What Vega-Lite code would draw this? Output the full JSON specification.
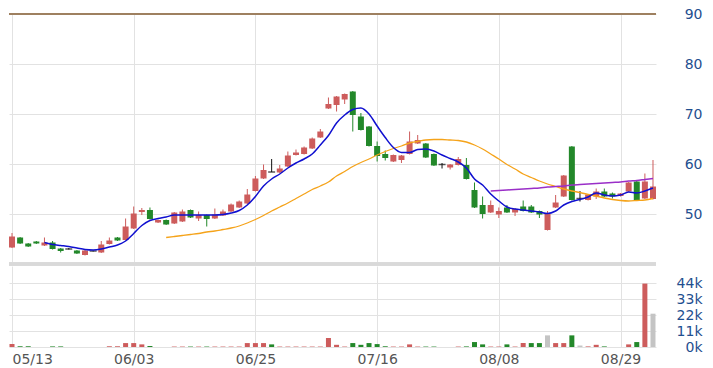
{
  "$schema": "https://vega.github.io/schema/vega-lite/v6.json",
  "padding": {"left": 7, "top": 7, "right": 5, "bottom": 2},
  "spacing": 0,
  "config": {"view": {"stroke": null}, "font": "DejaVu Sans"},
  "data": {"values": [
    {"d":"05/13","o":43.3,"h":46.2,"l":43.2,"c":45.5,"v":2000,"vd":"up","m5":null,"m20":null,"m60":null},
    {"d":"05/14","o":45.3,"h":45.4,"l":44.0,"c":44.1,"v":500,"vd":"down","m5":null,"m20":null,"m60":null},
    {"d":"05/15","o":44.1,"h":44.2,"l":43.4,"c":43.5,"v":500,"vd":"down","m5":null,"m20":null,"m60":null},
    {"d":"05/16","o":44.5,"h":44.6,"l":44.0,"c":44.1,"v":0,"vd":"down","m5":null,"m20":null,"m60":null},
    {"d":"05/17","o":43.7,"h":45.3,"l":43.6,"c":44.3,"v":0,"vd":"up","m5":44.3,"m20":null,"m60":null},
    {"d":"05/20","o":44.3,"h":44.6,"l":42.9,"c":43.0,"v":400,"vd":"down","m5":43.9,"m20":null,"m60":null},
    {"d":"05/21","o":43.1,"h":43.2,"l":42.3,"c":42.6,"v":400,"vd":"down","m5":43.7,"m20":null,"m60":null},
    {"d":"05/22","o":43.0,"h":43.2,"l":42.9,"c":43.0,"v":0,"vd":"flat","m5":43.5,"m20":null,"m60":null},
    {"d":"05/23","o":42.7,"h":42.8,"l":42.0,"c":42.1,"v":0,"vd":"down","m5":43.2,"m20":null,"m60":null},
    {"d":"05/24","o":41.8,"h":42.8,"l":41.7,"c":42.7,"v":0,"vd":"up","m5":42.9,"m20":null,"m60":null},
    {"d":"05/27","o":42.6,"h":42.7,"l":42.5,"c":42.6,"v":0,"vd":"flat","m5":42.8,"m20":null,"m60":null},
    {"d":"05/28","o":42.3,"h":44.6,"l":42.2,"c":43.9,"v":0,"vd":"up","m5":43.0,"m20":null,"m60":null},
    {"d":"05/29","o":44.0,"h":45.3,"l":43.9,"c":44.7,"v":500,"vd":"up","m5":43.4,"m20":null,"m60":null},
    {"d":"05/30","o":45.3,"h":45.4,"l":44.6,"c":44.7,"v":500,"vd":"up","m5":43.8,"m20":null,"m60":null},
    {"d":"05/31","o":44.8,"h":49.1,"l":44.7,"c":47.5,"v":2700,"vd":"up","m5":44.6,"m20":null,"m60":null},
    {"d":"06/03","o":47.1,"h":51.5,"l":47.0,"c":50.1,"v":2700,"vd":"up","m5":46.1,"m20":null,"m60":null},
    {"d":"06/04","o":50.4,"h":51.2,"l":49.8,"c":50.8,"v":1800,"vd":"up","m5":47.7,"m20":null,"m60":null},
    {"d":"06/05","o":50.8,"h":51.3,"l":48.9,"c":49.0,"v":700,"vd":"down","m5":48.7,"m20":null,"m60":null},
    {"d":"06/06","o":48.3,"h":48.9,"l":48.2,"c":48.8,"v":0,"vd":"up","m5":49.1,"m20":null,"m60":null},
    {"d":"06/10","o":48.8,"h":48.9,"l":47.8,"c":47.9,"v":0,"vd":"down","m5":49.4,"m20":45.3,"m60":null},
    {"d":"06/11","o":48.1,"h":50.4,"l":48.0,"c":50.3,"v":300,"vd":"up","m5":49.8,"m20":45.5,"m60":null},
    {"d":"06/12","o":48.5,"h":50.9,"l":48.4,"c":50.5,"v":300,"vd":"up","m5":49.8,"m20":45.7,"m60":null},
    {"d":"06/13","o":50.8,"h":50.9,"l":49.2,"c":49.3,"v":300,"vd":"down","m5":49.8,"m20":45.9,"m60":null},
    {"d":"06/14","o":49.1,"h":50.5,"l":48.6,"c":49.8,"v":300,"vd":"up","m5":49.8,"m20":46.1,"m60":null},
    {"d":"06/17","o":49.8,"h":49.9,"l":47.5,"c":49.0,"v":300,"vd":"down","m5":49.8,"m20":46.4,"m60":null},
    {"d":"06/18","o":49.1,"h":51.1,"l":49.0,"c":49.9,"v":300,"vd":"up","m5":49.8,"m20":46.6,"m60":null},
    {"d":"06/19","o":49.7,"h":50.9,"l":49.6,"c":50.5,"v":300,"vd":"up","m5":49.9,"m20":46.9,"m60":null},
    {"d":"06/20","o":50.5,"h":52.1,"l":50.4,"c":51.9,"v":300,"vd":"up","m5":50.2,"m20":47.2,"m60":null},
    {"d":"06/21","o":51.3,"h":52.7,"l":51.2,"c":52.5,"v":300,"vd":"up","m5":50.7,"m20":47.6,"m60":null},
    {"d":"06/24","o":52.1,"h":55.0,"l":52.0,"c":53.9,"v":2700,"vd":"up","m5":51.8,"m20":48.2,"m60":null},
    {"d":"06/25","o":54.6,"h":57.6,"l":54.5,"c":57.1,"v":2700,"vd":"up","m5":53.5,"m20":48.9,"m60":null},
    {"d":"06/26","o":57.1,"h":59.9,"l":57.0,"c":58.8,"v":2700,"vd":"up","m5":55.6,"m20":49.7,"m60":null},
    {"d":"06/27","o":58.4,"h":61.0,"l":58.4,"c":58.4,"v":1800,"vd":"down","m5":57.0,"m20":50.6,"m60":null},
    {"d":"06/28","o":58.3,"h":59.8,"l":58.2,"c":59.1,"v":300,"vd":"up","m5":58.0,"m20":51.4,"m60":null},
    {"d":"07/01","o":59.5,"h":62.5,"l":59.4,"c":61.7,"v":300,"vd":"up","m5":59.2,"m20":52.2,"m60":null},
    {"d":"07/02","o":61.8,"h":62.9,"l":61.7,"c":62.3,"v":300,"vd":"up","m5":60.2,"m20":53.1,"m60":null},
    {"d":"07/03","o":62.0,"h":63.5,"l":61.9,"c":63.3,"v":300,"vd":"up","m5":61.0,"m20":54.0,"m60":null},
    {"d":"07/04","o":63.1,"h":65.3,"l":63.0,"c":65.1,"v":300,"vd":"up","m5":62.0,"m20":54.9,"m60":null},
    {"d":"07/05","o":65.3,"h":67.0,"l":65.2,"c":66.5,"v":300,"vd":"up","m5":63.8,"m20":55.6,"m60":null},
    {"d":"07/08","o":71.1,"h":73.3,"l":71.0,"c":72.0,"v":6200,"vd":"up","m5":65.7,"m20":56.4,"m60":null},
    {"d":"07/09","o":71.8,"h":73.6,"l":70.5,"c":73.5,"v":1500,"vd":"up","m5":68.2,"m20":57.6,"m60":null},
    {"d":"07/10","o":72.9,"h":74.1,"l":72.0,"c":74.0,"v":300,"vd":"up","m5":69.8,"m20":58.5,"m60":null},
    {"d":"07/11","o":74.5,"h":74.6,"l":66.5,"c":69.8,"v":2700,"vd":"down","m5":70.9,"m20":59.5,"m60":null},
    {"d":"07/12","o":69.5,"h":70.2,"l":66.7,"c":66.8,"v":1500,"vd":"down","m5":71.2,"m20":60.3,"m60":null},
    {"d":"07/15","o":67.5,"h":67.6,"l":63.5,"c":63.6,"v":2700,"vd":"down","m5":70.0,"m20":61.0,"m60":null},
    {"d":"07/16","o":63.6,"h":64.5,"l":60.5,"c":61.6,"v":2000,"vd":"down","m5":67.6,"m20":61.8,"m60":null},
    {"d":"07/17","o":62.0,"h":62.7,"l":60.7,"c":61.2,"v":500,"vd":"down","m5":65.3,"m20":62.5,"m60":null},
    {"d":"07/18","o":60.5,"h":61.9,"l":60.4,"c":61.8,"v":300,"vd":"up","m5":63.3,"m20":63.1,"m60":null},
    {"d":"07/19","o":60.8,"h":61.8,"l":60.2,"c":61.7,"v":300,"vd":"up","m5":62.3,"m20":63.6,"m60":null},
    {"d":"07/22","o":62.0,"h":66.5,"l":61.9,"c":64.5,"v":1800,"vd":"up","m5":62.3,"m20":64.2,"m60":null},
    {"d":"07/23","o":64.1,"h":65.8,"l":64.0,"c":64.8,"v":300,"vd":"up","m5":62.9,"m20":64.5,"m60":null},
    {"d":"07/24","o":64.1,"h":64.2,"l":61.2,"c":61.3,"v":300,"vd":"down","m5":63.0,"m20":64.8,"m60":null},
    {"d":"07/25","o":62.0,"h":62.1,"l":59.6,"c":59.7,"v":300,"vd":"down","m5":62.6,"m20":64.9,"m60":null},
    {"d":"07/26","o":59.9,"h":60.2,"l":59.1,"c":59.9,"v":0,"vd":"flat","m5":61.8,"m20":64.9,"m60":null},
    {"d":"07/29","o":59.3,"h":60.0,"l":58.9,"c":59.9,"v":0,"vd":"up","m5":61.1,"m20":64.8,"m60":null},
    {"d":"07/30","o":59.8,"h":61.4,"l":59.7,"c":61.0,"v":300,"vd":"up","m5":60.4,"m20":64.7,"m60":null},
    {"d":"07/31","o":59.8,"h":61.2,"l":56.9,"c":57.0,"v":400,"vd":"down","m5":59.2,"m20":64.4,"m60":null},
    {"d":"08/01","o":54.8,"h":56.3,"l":51.2,"c":51.3,"v":3400,"vd":"down","m5":57.0,"m20":63.8,"m60":null},
    {"d":"08/02","o":51.8,"h":53.5,"l":49.1,"c":50.0,"v":1800,"vd":"down","m5":55.8,"m20":63.0,"m60":null},
    {"d":"08/05","o":50.3,"h":52.7,"l":50.2,"c":51.8,"v":300,"vd":"up","m5":54.0,"m20":62.0,"m60":54.6},
    {"d":"08/08","o":49.9,"h":51.3,"l":49.2,"c":50.6,"v":300,"vd":"up","m5":52.6,"m20":61.0,"m60":54.7},
    {"d":"08/09","o":51.3,"h":51.8,"l":50.2,"c":50.3,"v":1800,"vd":"down","m5":51.4,"m20":59.9,"m60":54.8},
    {"d":"08/12","o":50.3,"h":51.2,"l":49.6,"c":51.0,"v":300,"vd":"up","m5":51.0,"m20":59.0,"m60":54.9},
    {"d":"08/13","o":51.5,"h":52.7,"l":50.5,"c":50.6,"v":2700,"vd":"up","m5":50.8,"m20":58.0,"m60":55.0},
    {"d":"08/14","o":51.5,"h":51.8,"l":50.2,"c":50.3,"v":2700,"vd":"down","m5":50.6,"m20":57.3,"m60":55.1},
    {"d":"08/15","o":50.6,"h":50.7,"l":49.2,"c":49.9,"v":2700,"vd":"down","m5":50.4,"m20":56.6,"m60":55.2},
    {"d":"08/16","o":46.8,"h":50.6,"l":46.7,"c":50.1,"v":8000,"vd":"flat","m5":50.1,"m20":56.0,"m60":55.4},
    {"d":"08/19","o":51.3,"h":53.8,"l":51.2,"c":52.3,"v":2700,"vd":"up","m5":50.6,"m20":55.5,"m60":55.5},
    {"d":"08/20","o":53.5,"h":57.8,"l":53.4,"c":57.7,"v":2700,"vd":"up","m5":51.8,"m20":55.0,"m60":55.6},
    {"d":"08/21","o":63.5,"h":63.6,"l":52.7,"c":52.8,"v":8000,"vd":"down","m5":52.5,"m20":54.6,"m60":55.8},
    {"d":"08/22","o":53.1,"h":54.6,"l":52.5,"c":53.1,"v":1000,"vd":"flat","m5":52.9,"m20":54.3,"m60":55.9},
    {"d":"08/23","o":52.8,"h":54.0,"l":52.7,"c":53.9,"v":400,"vd":"up","m5":53.4,"m20":53.9,"m60":56.0},
    {"d":"08/26","o":53.5,"h":55.1,"l":53.0,"c":54.5,"v":1500,"vd":"up","m5":54.2,"m20":53.6,"m60":56.1},
    {"d":"08/27","o":54.5,"h":55.1,"l":53.4,"c":53.5,"v":400,"vd":"down","m5":53.8,"m20":53.2,"m60":56.2},
    {"d":"08/28","o":54.1,"h":54.3,"l":53.1,"c":53.5,"v":0,"vd":"down","m5":53.6,"m20":52.9,"m60":56.3},
    {"d":"08/29","o":53.6,"h":54.2,"l":53.5,"c":54.1,"v":0,"vd":"up","m5":53.8,"m20":52.7,"m60":56.4},
    {"d":"08/30","o":54.5,"h":56.4,"l":54.4,"c":56.3,"v":1800,"vd":"up","m5":54.4,"m20":52.6,"m60":56.6},
    {"d":"09/02","o":56.5,"h":56.6,"l":52.7,"c":52.8,"v":3400,"vd":"down","m5":54.2,"m20":52.7,"m60":56.7},
    {"d":"09/03","o":53.1,"h":58.1,"l":53.0,"c":56.5,"v":43600,"vd":"up","m5":54.6,"m20":52.8,"m60":56.9},
    {"d":"09/04","o":53.0,"h":60.8,"l":52.9,"c":55.5,"v":22900,"vd":"flat","m5":55.2,"m20":53.1,"m60":57.1}
  ]},
  "vconcat": [
    {
      "width": 647,
      "height": 250,
      "layer": [
        {
          "mark": {"type": "rule", "color": "#9e8060", "strokeWidth": 1.5},
          "encoding": {"y": {"datum": 90, "type": "quantitative", "scale": {"domain": [40, 90], "nice": false, "zero": false}}}
        },
        {
          "mark": {"type": "rule", "color": "#d9d9d9", "strokeWidth": 3},
          "encoding": {"y": {"datum": 40, "type": "quantitative"}}
        },
        {
          "mark": {"type": "rule", "strokeWidth": 1},
          "encoding": {
            "x": {"field": "d", "type": "ordinal", "sort": null, "scale": {"type": "point", "padding": 0.37},
              "axis": {"values": ["05/13","06/03","06/25","07/16","08/08","08/29"], "labels": false, "ticks": false, "domain": false, "grid": true, "gridColor": "#e2e2e2", "title": null}},
            "y": {"field": "l", "type": "quantitative", "scale": {"domain": [40, 90], "nice": false, "zero": false},
              "axis": {"orient": "right", "values": [50, 60, 70, 80, 90], "grid": true, "gridColor": "#e2e2e2", "ticks": false, "domain": false, "labelAlign": "right", "labelPadding": 46, "labelColor": "#1f4f8f", "labelFontSize": 14, "title": null}},
            "y2": {"field": "h"},
            "color": {"condition": [{"test": "datum.c > datum.o", "value": "#cd5c5c"}, {"test": "datum.c < datum.o", "value": "#23882a"}], "value": "#111111"}
          }
        },
        {
          "mark": {"type": "bar", "width": 6},
          "encoding": {
            "x": {"field": "d", "type": "ordinal", "sort": null},
            "y": {"field": "o", "type": "quantitative"},
            "y2": {"field": "c"},
            "color": {"condition": [{"test": "datum.c > datum.o", "value": "#cd5c5c"}, {"test": "datum.c < datum.o", "value": "#23882a"}], "value": "#111111"}
          }
        },
        {
          "transform": [{"filter": "datum.o == datum.c"}],
          "mark": {"type": "tick", "color": "#111111", "thickness": 1.5, "size": 7},
          "encoding": {
            "x": {"field": "d", "type": "ordinal", "sort": null},
            "y": {"field": "o", "type": "quantitative"}
          }
        },
        {
          "mark": {"type": "line", "color": "#f5a31a", "strokeWidth": 1.3, "interpolate": "monotone"},
          "encoding": {"x": {"field": "d", "type": "ordinal", "sort": null}, "y": {"field": "m20", "type": "quantitative"}}
        },
        {
          "mark": {"type": "line", "color": "#9a2fc8", "strokeWidth": 1.5, "interpolate": "monotone"},
          "encoding": {"x": {"field": "d", "type": "ordinal", "sort": null}, "y": {"field": "m60", "type": "quantitative"}}
        },
        {
          "mark": {"type": "line", "color": "#1010d0", "strokeWidth": 1.5, "interpolate": "monotone"},
          "encoding": {"x": {"field": "d", "type": "ordinal", "sort": null}, "y": {"field": "m5", "type": "quantitative"}}
        }
      ]
    },
    {
      "width": 647,
      "height": 81,
      "mark": {"type": "bar", "width": 5},
      "encoding": {
        "x": {"field": "d", "type": "ordinal", "sort": null, "scale": {"type": "point", "padding": 0.37},
          "axis": {"values": ["05/13","06/03","06/25","07/16","08/08","08/29"], "labelAngle": 0, "labelFlush": 5, "ticks": false, "domain": false, "grid": true, "gridColor": "#e2e2e2", "labelColor": "#555555", "labelFontSize": 14, "labelPadding": 5, "title": null}},
        "y": {"field": "v", "type": "quantitative", "scale": {"domain": [0, 55700], "nice": false},
          "axis": {"orient": "right", "values": [0, 11000, 22000, 33000, 44000], "labelExpr": "(datum.value / 1000) + 'k'", "grid": true, "gridColor": "#e2e2e2", "ticks": false, "domain": false, "labelAlign": "right", "labelPadding": 46, "labelColor": "#1f4f8f", "labelFontSize": 14, "title": null}},
        "color": {"field": "vd", "type": "nominal", "scale": {"domain": ["up", "down", "flat"], "range": ["#cd5c5c", "#23882a", "#c4c4c4"]}, "legend": null}
      }
    }
  ]
}
